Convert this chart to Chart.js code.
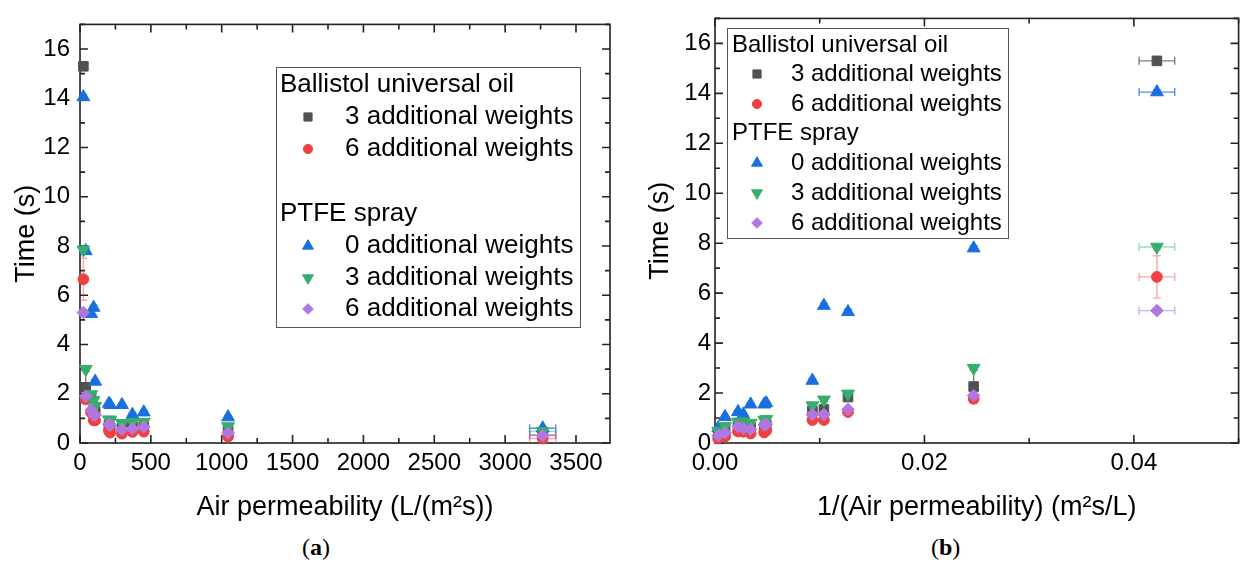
<!DOCTYPE html>
<html><head><meta charset="utf-8">
<script src="https://cdn.jsdelivr.net/npm/chart.js@4.4.0/dist/chart.umd.min.js"></script>
<style>
html,body{margin:0;padding:0;background:#fff;width:1247px;height:565px;overflow:hidden;}
canvas{position:absolute;top:0;}
#A{left:0;}
#B{left:630px;}
.lab{position:absolute;top:535px;font-family:"Liberation Serif","Times New Roman",serif;font-size:24px;line-height:24px;color:#000;}
</style></head><body>
<canvas id="A" width="630" height="530"></canvas>
<canvas id="B" width="617" height="530"></canvas>
<div class="lab" style="left:302px">(<b>a</b>)</div>
<div class="lab" style="left:931px">(<b>b</b>)</div>
<script>
// ---- data (12 fabric samples) ----
const permeability = [23.7, 40.5, 78.5, 96, 107, 204, 213, 296, 370, 450, 1045, 3265];      // L/(m²s)
const invPermeability = [0.0422, 0.0247, 0.0127, 0.0104, 0.0093, 0.0049, 0.0047, 0.0034, 0.0027, 0.0022, 0.00096, 0.00031]; // m²s/L
const permErr = [0, 0, 0, 0, 0, 0, 0, 0, 0, 0, 0, 92];
const invPermErr = [0.0017, 0, 0, 0, 0, 0, 0, 0, 0, 0, 0, 0];

const oil3 = [15.3, 2.26, 1.84, 1.34, 1.28, 0.72, 0.62, 0.6, 0.66, 0.7, 0.5, 0.32];
const oil6 = [6.65, 1.77, 1.24, 0.92, 0.92, 0.5, 0.42, 0.38, 0.45, 0.46, 0.26, 0.18];
const ptfe0 = [14.05, 7.8, 5.25, 5.5, 2.5, 1.6, 1.55, 1.55, 1.15, 1.25, 1.05, 0.6];
const ptfe3 = [7.85, 3.0, 1.97, 1.73, 1.5, 0.95, 0.92, 0.8, 0.85, 0.85, 0.67, 0.48];
const ptfe6 = [5.3, 1.9, 1.34, 1.14, 1.14, 0.75, 0.72, 0.55, 0.58, 0.65, 0.41, 0.3];

const oil3Err = [0.1, 0.65, 0.1, 0.08, 0.08, 0.06, 0.06, 0.06, 0.06, 0.06, 0.05, 0.05];
const oil6Err = [0.85, 0.15, 0.08, 0.08, 0.08, 0.06, 0.06, 0.06, 0.06, 0.06, 0.05, 0.05];
const ptfe0Err = [0.1, 0.1, 0.1, 0.1, 0.08, 0.06, 0.06, 0.06, 0.06, 0.06, 0.05, 0.05];
const ptfe3Err = [0.1, 0.1, 0.08, 0.08, 0.08, 0.06, 0.06, 0.06, 0.06, 0.06, 0.05, 0.05];
const ptfe6Err = [0.1, 0.1, 0.08, 0.08, 0.08, 0.06, 0.06, 0.06, 0.06, 0.06, 0.05, 0.05];

const seriesLabels = ['3 additional weights', '6 additional weights', '0 additional weights', '3 additional weights', '6 additional weights'];
const groupLabels = ['Ballistol universal oil', 'PTFE spray'];
const yTicks = [0, 2, 4, 6, 8, 10, 12, 14, 16];
const xTicksA = [0, 500, 1000, 1500, 2000, 2500, 3000, 3500];
const xTicksB = [0, 0.02, 0.04];

Chart.defaults.font.family = "'Liberation Sans', Arial, Helvetica, sans-serif";
Chart.defaults.color = '#000';

const styles = [
  {y: oil3, e: oil3Err, c: '#515151', ec: 'rgba(81,81,81,0.75)', ps: 'rect', r: 6.8, rot: 0, order: 5},
  {y: oil6, e: oil6Err, c: '#F14040', ec: 'rgba(241,64,64,0.45)', ps: 'circle', r: 5.4, rot: 0, order: 4},
  {y: ptfe0, e: ptfe0Err, c: '#1A6FDF', ec: 'rgba(26,111,223,0.75)', ps: 'triangle', r: 7.4, rot: 0, order: 3},
  {y: ptfe3, e: ptfe3Err, c: '#37AD6B', ec: 'rgba(55,173,107,0.45)', ps: 'triangle', r: 7.4, rot: 180, order: 2},
  {y: ptfe6, e: ptfe6Err, c: '#B177DE', ec: 'rgba(177,119,222,0.6)', ps: 'rectRot', r: 6.3, rot: 0, order: 1}
];

function makeDatasets(xs, xErr) {
  return styles.map((s, k) => ({
    label: seriesLabels[k],
    data: xs.map((x, i) => ({x: x, y: s.y[i]})),
    xErr: xErr, yErr: s.e, errColor: s.ec,
    pointStyle: s.ps, rotation: s.rot, pointRadius: s.r, pointHoverRadius: s.r,
    backgroundColor: s.c, borderColor: s.c, pointBorderWidth: 1,
    showLine: false, order: s.order, clip: false
  }));
}

const frame = {
  id: 'frame',
  beforeDatasetsDraw(chart, args, o) {
    const {ctx, chartArea: a, scales: {x, y}} = chart;
    ctx.save();
    ctx.strokeStyle = '#222'; ctx.lineWidth = 1.6;
    ctx.strokeRect(a.left, a.top, a.right - a.left, a.bottom - a.top);
    const MJ = 8, MN = 5;
    const tick = (scale, v, len) => {
      const p = scale.getPixelForValue(v);
      ctx.beginPath();
      if (scale.axis === 'x') {
        ctx.moveTo(p, a.bottom); ctx.lineTo(p, a.bottom - len);
        ctx.moveTo(p, a.top); ctx.lineTo(p, a.top + len);
      } else {
        ctx.moveTo(a.left, p); ctx.lineTo(a.left + len, p);
        ctx.moveTo(a.right, p); ctx.lineTo(a.right - len, p);
      }
      ctx.stroke();
    };
    [[x, o.xMajor, o.xMinor], [y, o.yMajor, o.yMinor]].forEach(([s, mj, mn]) => {
      for (let v = s.min; v <= s.max + 1e-9; v += mj) tick(s, v, MJ);
      for (let v = s.min + mn; v <= s.max + 1e-9; v += 2 * mn) tick(s, v, MN);
    });
    ctx.restore();
  }
};

const errorBars = {
  id: 'errorBars',
  beforeDatasetsDraw(chart) {
    const {ctx, scales: {x, y}} = chart;
    chart.data.datasets.forEach(ds => {
      ctx.save();
      ctx.strokeStyle = ds.errColor; ctx.lineWidth = 1.4;
      ds.data.forEach((p, i) => {
        const px = x.getPixelForValue(p.x), py = y.getPixelForValue(p.y);
        const ye = ds.yErr[i], xe = ds.xErr[i];
        ctx.beginPath();
        if (ye) {
          const t = y.getPixelForValue(p.y + ye), b = y.getPixelForValue(p.y - ye);
          ctx.moveTo(px, t); ctx.lineTo(px, b);
          ctx.moveTo(px - 4, t); ctx.lineTo(px + 4, t);
          ctx.moveTo(px - 4, b); ctx.lineTo(px + 4, b);
        }
        if (xe) {
          const l = x.getPixelForValue(p.x - xe), r = x.getPixelForValue(p.x + xe);
          ctx.moveTo(l, py); ctx.lineTo(r, py);
          ctx.moveTo(l, py - 4); ctx.lineTo(l, py + 4);
          ctx.moveTo(r, py - 4); ctx.lineTo(r, py + 4);
        }
        ctx.stroke();
      });
      ctx.restore();
    });
  }
};

const customLegend = {
  id: 'customLegend',
  afterDraw(chart, args, o) {
    const ctx = chart.ctx;
    ctx.save();
    const [l, t, r, b] = o.box;
    ctx.fillStyle = '#fff';
    ctx.fillRect(l, t, r - l, b - t);
    ctx.strokeStyle = '#555'; ctx.lineWidth = 1;
    ctx.strokeRect(l + 0.5, t + 0.5, r - l, b - t);
    ctx.font = o.size + "px 'Liberation Sans', Arial, sans-serif";
    ctx.textBaseline = 'middle'; ctx.textAlign = 'left';
    o.rows.forEach((row, i) => {
      const yy = o.ys[i];
      ctx.fillStyle = '#000';
      if (typeof row === 'string') { ctx.fillText(row, o.hx, yy); return; }
      const ds = chart.data.datasets[row];
      ctx.fillStyle = ds.backgroundColor; ctx.strokeStyle = ds.borderColor; ctx.lineWidth = 1;
      Chart.helpers.drawPoint(ctx, {pointStyle: ds.pointStyle, radius: ds.pointRadius * 0.85, rotation: ds.rotation, borderWidth: 1}, o.mx, yy);
      ctx.fillStyle = '#000';
      ctx.fillText(ds.label, o.tx, yy);
    });
    ctx.restore();
  }
};

function buildChart(id, xs, xErr, cfg) {
  return new Chart(document.getElementById(id), {
    type: 'scatter',
    data: {datasets: makeDatasets(xs, xErr)},
    options: {
      responsive: false, animation: false, devicePixelRatio: 1,
      layout: {padding: {left: 0, top: 15, right: cfg.padRight, bottom: 0}},
      plugins: {
        legend: {display: false}, tooltip: {enabled: false},
        frame: {xMajor: cfg.xMajor, xMinor: cfg.xMinor, yMajor: 2, yMinor: 1},
        customLegend: cfg.legend
      },
      scales: {
        x: {
          type: 'linear', min: 0, max: cfg.xMax,
          grid: {display: false, drawTicks: false, tickLength: 0}, border: {display: false},
          afterBuildTicks: s => { s.ticks = cfg.xTicks.map(v => ({value: v})); },
          afterFit: s => { s.height = 87; },
          ticks: {font: {size: 24}, color: '#000', padding: 6, maxRotation: 0, autoSkip: false, callback: cfg.fmt},
          title: {display: true, text: cfg.xTitle, font: {size: 27}, color: '#000', padding: {top: 0, bottom: 6}}
        },
        y: {
          type: 'linear', min: 0, max: 17,
          grid: {display: false, drawTicks: false, tickLength: 0}, border: {display: false},
          afterBuildTicks: s => { s.ticks = yTicks.map(v => ({value: v})); },
          afterFit: s => { s.width = cfg.yWidth; },
          ticks: {font: {size: 24}, color: '#000', padding: cfg.yPad, autoSkip: false},
          title: {display: true, text: 'Time (s)', font: {size: 27}, color: '#000', padding: {top: cfg.yTitlePad, bottom: 0}}
        }
      }
    },
    plugins: [frame, errorBars, customLegend]
  });
}

buildChart('A', permeability, permErr, {
  padRight: 20, xMax: 3740, xTicks: xTicksA, xMajor: 500, xMinor: 250,
  fmt: v => String(v), xTitle: 'Air permeability (L/(m²s))',
  yWidth: 80, yPad: 10, yTitlePad: 10,
  legend: {box: [276, 67, 580, 327], size: 26, hx: 280, mx: 308, tx: 345,
           rows: [groupLabels[0], 0, 1, groupLabels[1], 2, 3, 4], ys: [85, 117, 149, 214, 246, 278, 309]}
});
buildChart('B', invPermeability, invPermErr, {
  padRight: 1, xMax: 0.05, xTicks: xTicksB, xMajor: 0.02, xMinor: 0.01,
  fmt: v => Number(v).toFixed(2), xTitle: '1/(Air permeability) (m²s/L)',
  yWidth: 85, yPad: 4, yTitlePad: 14,
  legend: {box: [97, 28, 378, 238], size: 24, hx: 102, mx: 127, tx: 161,
           rows: [groupLabels[0], 0, 1, groupLabels[1], 2, 3, 4], ys: [45, 74, 104, 133, 163, 193, 223]}
});
</script>
</body></html>
